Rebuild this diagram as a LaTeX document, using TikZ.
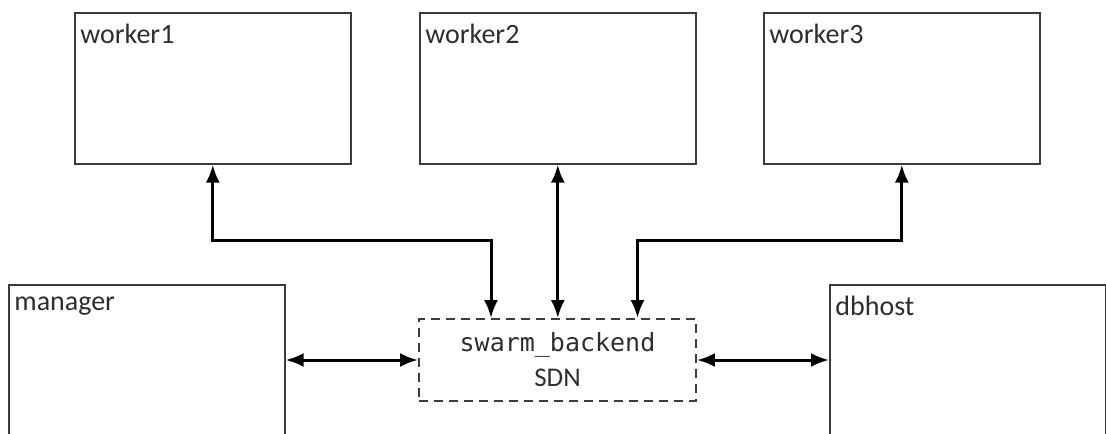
\documentclass[tikz,border=0pt]{standalone}
\usepackage{fontspec}
\setmainfont{Carlito}
\setmonofont{DejaVu Sans Mono}
\usetikzlibrary{arrows.meta}

\definecolor{edgegrey}{HTML}{3C3C3C}
\definecolor{textgrey}{HTML}{2E2E2E}

\tikzset{
  host/.style={draw=edgegrey, line width=0.8pt, minimum width=138pt,
    minimum height=75.5pt, inner sep=0pt, anchor=north west},
  tallhost/.style={host, minimum height=80pt},
  hostname/.style={anchor=north west, inner sep=0pt, text=textgrey,
    font=\fontsize{14}{16}\selectfont},
  network/.style={draw=edgegrey, line width=0.9pt, dash pattern=on 4.5pt off 3pt,
    minimum width=138.5pt, minimum height=41pt, align=center, text=textgrey,
    font=\fontsize{13.5}{17.5}\selectfont},
  link/.style={line width=1.5pt, {Latex[length=9pt,width=7pt]}-{Latex[length=9pt,width=7pt]}}
}

\begin{document}
\begin{tikzpicture}[x=0.5pt,y=-0.5pt]
  \useasboundingbox (0,0) rectangle (1106,433);
  \clip (0,0) rectangle (1106,433);

  % workers along the top
  \node[host] (worker1) at (74,12) {};
  \node[host] (worker2) at (419,12) {};
  \node[host] (worker3) at (763,12) {};
  \node[hostname] (worker1name) at ([shift={(3pt,-6pt)}]worker1.north west) {worker1};
  \node[hostname] (worker2name) at ([shift={(3pt,-6pt)}]worker2.north west) {worker2};
  \node[hostname] (worker3name) at ([shift={(3pt,-6pt)}]worker3.north west) {worker3};

  % manager and database host, cut off at the bottom
  \node[tallhost] (manager) at (8,284) {};
  \node[tallhost] (dbhost) at (829,284) {};
  \node[hostname] (managername) at ([shift={(3pt,-6pt)}]manager.north west) {manager};
  \node[hostname] (dbhostname) at ([shift={(3pt,-6pt)}]dbhost.north west) {dbhost};

  % overlay network
  \node[network] (sdn) at (557.5,360) {{\ttfamily\fontsize{12.5}{17.5}\selectfont swarm\_backend}\\SDN};

  % connections
  \coordinate (bus) at (0,240);
  \path (sdn.north) ++(-66.5,0) coordinate (w1in) ++(146.5,0) coordinate (w3in);
  \draw[link] (worker1.south) -- (worker1.south |- bus) -| (w1in);
  \draw[link] (worker2.south) -- (worker2.south |- sdn.north);
  \draw[link] (worker3.south) -- (worker3.south |- bus) -| (w3in);
  \draw[link] (manager.east |- sdn.west) -- (sdn.west);
  \draw[link] (sdn.east) -- (dbhost.west |- sdn.east);
\end{tikzpicture}
\end{document}
